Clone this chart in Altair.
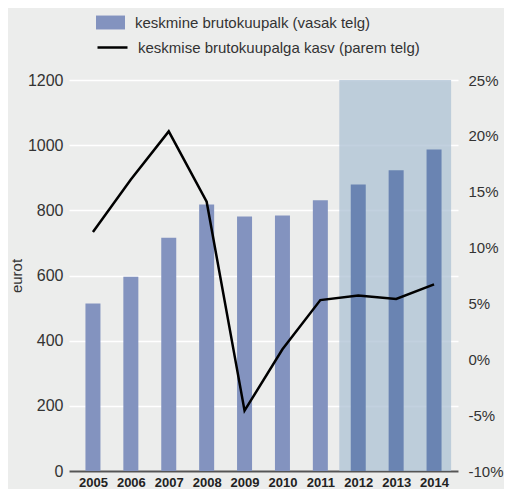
import altair as alt
import pandas as pd

years = [2005, 2006, 2007, 2008, 2009, 2010, 2011, 2012, 2013, 2014]
salary = [514, 596, 716, 818, 781, 784, 831, 879, 923, 987]
growth = [11.4, 16.1, 20.4, 14.1, -4.6, 0.9, 5.3, 5.7, 5.4, 6.7]
forecast_from = 2012
shade_start = [2011.5]
shade_end = [2014.45]
bar_label = "keskmine brutokuupalk (vasak telg)"
line_label = "keskmise brutokuupalga kasv (parem telg)"
left_ticks = [0, 200, 400, 600, 800, 1000, 1200]
right_ticks = [-10, -5, 0, 5, 10, 15, 20, 25]

BG = "#ecedec"
LIGHT = "#8393bf"
DARK = "#6a84b2"
SHADE = "#aec2d4"
FONT = "Liberation Sans"

df = pd.DataFrame({
    "year": years,
    "salary": salary,
    "growth": growth,
    "bar": [bar_label] * len(years),
    "line": [line_label] * len(years),
})
shade_df = pd.DataFrame({"start": shade_start, "end": shade_end})

xscale = alt.Scale(domain=[2004.5, 2014.5], nice=False, zero=False)
xaxis = alt.Axis(values=years, format="d", title=None, grid=False, ticks=False,
                 labelFontWeight="bold", labelFontSize=13, labelColor="#222222",
                 domainColor="#555555", domainWidth=2, labelPadding=5,
                 labelFlush=False, labelOverlap=False, labelFont=FONT)
yscale = alt.Scale(domain=[0, 1200], nice=False)
yaxis = alt.Axis(values=left_ticks, format="d", title="eurot", grid=True,
                 gridColor="white", gridWidth=1.5, domain=False, ticks=False,
                 labelPadding=6, labelFontSize=16, labelColor="#333333",
                 labelFont=FONT, titleFont=FONT, titleFontSize=15,
                 titleFontWeight="normal", titleColor="#333333", titlePadding=3)

shade = alt.Chart(shade_df).mark_rect(color=SHADE, opacity=0.75).encode(
    x=alt.X("start:Q", scale=xscale, axis=xaxis),
    x2="end:Q",
    y=alt.datum(1200, type="quantitative", scale=yscale, axis=yaxis),
    y2=alt.datum(0),
)

bars = alt.Chart(df).mark_bar(size=15).encode(
    x=alt.X("year:Q", scale=xscale, axis=xaxis),
    y=alt.Y("salary:Q", scale=yscale, axis=yaxis),
    fill=alt.condition(
        alt.datum.year >= forecast_from,
        alt.value(DARK),
        alt.Fill("bar:N", scale=alt.Scale(range=[LIGHT]),
                 legend=alt.Legend(orient="none", legendX=27, legendY=-72,
                                   title=None, symbolType="M-1,-0.48H1V0.48H-1Z",
                                   symbolSize=841, symbolStrokeWidth=0,
                                   labelFontSize=15, labelFont=FONT, labelLimit=0,
                                   labelColor="#333333", labelOffset=10)),
    ),
)

line = alt.Chart(df).mark_line(strokeWidth=2.5).encode(
    x=alt.X("year:Q", scale=xscale, axis=xaxis),
    y=alt.Y("growth:Q", scale=alt.Scale(domain=[-10, 25], nice=False),
            axis=alt.Axis(orient="right", values=right_ticks, title=None,
                          labelExpr="datum.value + '%'", grid=False, domain=False,
                          ticks=False, labelPadding=10, labelFontSize=15,
                          labelColor="#333333", labelFont=FONT)),
    stroke=alt.Stroke("line:N", scale=alt.Scale(range=["black"]),
                      legend=alt.Legend(orient="none", legendX=27, legendY=-49,
                                        title=None, symbolType="stroke",
                                        symbolSize=900, symbolStrokeWidth=2.5,
                                        labelFontSize=15, labelFont=FONT, labelLimit=0,
                                        labelColor="#333333", labelOffset=9)),
)

left = alt.layer(shade, bars)
chart = alt.layer(left, line).resolve_scale(y="independent").properties(
    width=496, height=481, background=BG,
    autosize=alt.AutoSizeParams(type="fit", contains="padding"),
    padding={"left": 1, "top": 64, "right": 0, "bottom": 0},
).configure_view(stroke=None)

chart.save("out.html", embed_options={"renderer": "svg", "actions": False})
